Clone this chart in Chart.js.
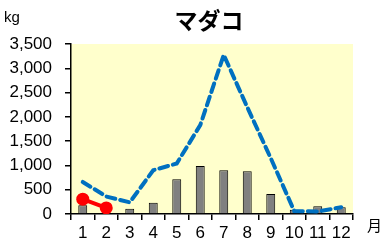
<!DOCTYPE html>
<html>
<head>
<meta charset="utf-8">
<script src="https://cdn.jsdelivr.net/npm/chart.js@4"></script>
<style>
body{margin:0;background:#fff;}
#wrap{width:390px;height:247px;}
</style>
</head>
<body>
<div id="wrap"><canvas id="myChart"></canvas></div>
<script>
//months on the x axis
var months = ['1','2','3','4','5','6','7','8','9','10','11','12'];
//grey bars (previous year)
var barValues = [180, 0, 110, 230, 715, 990, 900, 880, 410, 90, 160, 140];
//blue dashed line (average)
var avgValues = [660, 360, 240, 900, 1040, 1830, 3275, 2200, 1150, 60, 50, 140];
//red line (this year, only two months so far)
var curValues = [305, 125, null, null, null, null, null, null, null, null, null, null];
var yTicks = [0, 500, 1000, 1500, 2000, 2500, 3000, 3500];
var titleText = 'マダコ';
var unitY = 'kg';
var unitX = '月';

var numFont = {family: '"Liberation Sans", Arial, sans-serif', size: 17};

//yellow plot background + title + unit labels
var decor = {
    id: 'decor',
    beforeDraw: function(chart) {
        var a = chart.chartArea;
        var c = chart.ctx;
        c.save();
        c.fillStyle = '#FFFFCC';
        c.fillRect(a.left, a.top, a.right - a.left, a.bottom - a.top);
        c.restore();
    },
    afterDraw: function(chart) {
        var a = chart.chartArea;
        var c = chart.ctx;
        c.save();
        c.fillStyle = '#000';
        c.textBaseline = 'middle';
        c.textAlign = 'center';
        c.font = 'bold 23px "Noto Sans CJK JP", sans-serif';
        c.fillText(titleText, 209, 20);
        c.textAlign = 'left';
        c.font = '15px "Liberation Sans", Arial, sans-serif';
        c.fillText(unitY, 4, 18);
        c.font = '15px "Noto Sans CJK JP", sans-serif';
        c.fillText(unitX, 367, 225);
        c.restore();
    }
};

var ctx = document.getElementById('myChart').getContext('2d');
var myChart = new Chart(ctx, {
    type: 'bar',
    data: {
        labels: months,
        datasets: [{
            type: 'line',
            data: curValues,
            borderColor: '#FF0000',
            backgroundColor: '#FF0000',
            borderWidth: 4,
            pointRadius: 6.5,
            pointBorderWidth: 0,
            fill: false,
            order: 0
        }, {
            type: 'line',
            data: avgValues,
            borderColor: '#0070C0',
            borderWidth: 4,
            borderDash: [9, 5],
            borderCapStyle: 'round',
            pointRadius: 0,
            tension: 0,
            fill: false,
            order: 1
        }, {
            type: 'bar',
            data: barValues,
            backgroundColor: '#808080',
            borderColor: '#000000',
            borderWidth: 1,
            barPercentage: 0.38,
            categoryPercentage: 1,
            order: 2
        }]
    },
    options: {
        responsive: true,
        maintainAspectRatio: false,
        animation: false,
        layout: {padding: {top: 44, right: 37, left: 0, bottom: 0}},
        plugins: {
            legend: {display: false},
            title: {display: false},
            tooltip: {enabled: false}
        },
        scales: {
            x: {
                grid: {display: true, drawOnChartArea: false, color: '#000', tickLength: 6, lineWidth: 1.5},
                border: {display: true, color: '#000', width: 1.5},
                ticks: {color: '#000', font: numFont, padding: 3, maxRotation: 0, autoSkip: false},
                afterFit: function(s) { s.height = 33; }
            },
            y: {
                min: 0,
                max: 3500,
                afterBuildTicks: function(s) { s.ticks = yTicks.map(function(v) { return {value: v}; }); },
                grid: {display: true, drawOnChartArea: false, color: '#000', tickLength: 6, lineWidth: 1.5},
                border: {display: true, color: '#000', width: 1.5},
                ticks: {
                    color: '#000',
                    font: numFont,
                    padding: 13,
                    callback: function(v) { return v.toLocaleString('en-US'); }
                },
                afterFit: function(s) { s.width = 71; }
            }
        }
    },
    plugins: [decor]
});
</script>
</body>
</html>
